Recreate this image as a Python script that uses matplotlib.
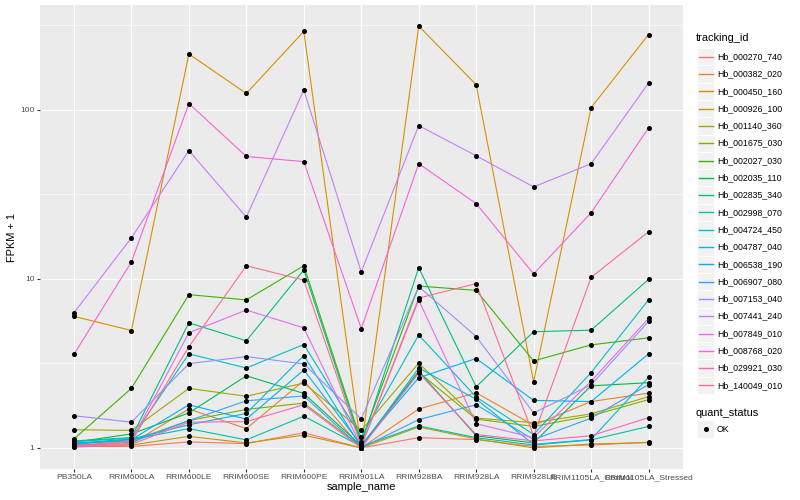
import matplotlib
matplotlib.use("Agg")
import matplotlib.pyplot as plt
from matplotlib.patches import Rectangle
import numpy as np

plt.rcParams['font.family'] = ['Liberation Sans', 'DejaVu Sans']

# 样本（x 轴类别）
samples = ["PB350LA", "RRIM600LA", "RRIM600LE", "RRIM600SE", "RRIM600PE",
           "RRIM901LA", "RRIM928BA", "RRIM928LA", "RRIM928LE",
           "RRIM1105LA_Control", "RRIM1105LA_Stressed"]

tracking_ids = ["Hb_000270_740", "Hb_000382_020", "Hb_000450_160", "Hb_000926_100",
                "Hb_001140_360", "Hb_001675_030", "Hb_002027_030", "Hb_002035_110",
                "Hb_002835_340", "Hb_002998_070", "Hb_004724_450", "Hb_004787_040",
                "Hb_006538_190", "Hb_006907_080", "Hb_007153_040", "Hb_007441_240",
                "Hb_007849_010", "Hb_008768_020", "Hb_029921_030", "Hb_140049_010"]

# FPKM + 1，每个基因一行
hb_000270_740 = [1.02, 1.02, 1.085, 1.06, 1.23, 1.00, 1.15, 1.12, 1.02, 1.04, 1.08]
hb_000382_020 = [1.04, 1.06, 1.70, 1.30, 2.50, 1.00, 1.70, 2.12, 1.36, 1.88, 2.11]
hb_000450_160 = [6.0, 4.95, 214, 125, 291, 1.0, 313, 141, 2.46, 103, 279]
hb_000926_100 = [1.03, 1.04, 1.17, 1.07, 1.19, 1.00, 1.33, 1.13, 1.00, 1.055, 1.075]
hb_001140_360 = [1.28, 1.27, 2.25, 2.02, 2.42, 1.27, 3.17, 1.50, 1.41, 1.59, 2.01]
hb_001675_030 = [1.06, 1.10, 1.45, 1.69, 1.84, 1.02, 2.80, 1.48, 1.34, 1.55, 1.93]
hb_002027_030 = [1.13, 2.25, 8.07, 7.51, 11.96, 1.09, 9.07, 8.55, 3.27, 4.07, 4.48]
hb_002035_110 = [1.08, 1.21, 1.61, 2.67, 2.10, 1.03, 2.85, 1.18, 1.07, 2.33, 2.43]
hb_002835_340 = [1.10, 1.15, 5.50, 4.30, 11.3, 1.05, 11.66, 2.30, 4.87, 4.97, 9.93]
hb_002998_070 = [1.07, 1.12, 1.30, 1.115, 1.54, 1.02, 1.35, 1.15, 1.04, 1.115, 1.34]
hb_004724_450 = [1.09, 1.14, 3.60, 2.97, 4.09, 1.16, 4.66, 2.00, 1.20, 2.79, 7.51]
hb_004787_040 = [1.05, 1.13, 1.37, 1.60, 3.52, 1.01, 2.97, 1.94, 1.05, 1.12, 2.62]
hb_006538_190 = [1.06, 1.12, 1.80, 1.48, 2.89, 1.04, 2.60, 3.38, 1.91, 1.88, 3.60]
hb_006907_080 = [1.04, 1.08, 1.45, 1.90, 2.03, 1.00, 1.47, 1.80, 1.12, 1.50, 2.37]
hb_007153_040 = [1.55, 1.42, 3.15, 3.47, 3.14, 1.485, 9.00, 4.56, 1.61, 2.36, 5.60]
hb_007441_240 = [6.3, 17.5, 57.4, 23.2, 131, 11.0, 80.7, 53.5, 35, 48, 144]
hb_007849_010 = [1.02, 1.10, 4.80, 6.54, 5.13, 1.02, 7.50, 1.39, 1.15, 2.48, 5.83]
hb_008768_020 = [3.58, 12.6, 109, 53, 49.4, 5.08, 48, 27.9, 10.7, 24.6, 78.2]
hb_029921_030 = [1.01, 1.05, 1.42, 1.43, 1.80, 1.00, 2.78, 1.20, 1.10, 1.18, 1.51]
hb_140049_010 = [1.03, 1.09, 3.97, 11.96, 9.83, 1.02, 7.70, 9.38, 1.18, 10.2, 19.0]

series = [hb_000270_740, hb_000382_020, hb_000450_160, hb_000926_100, hb_001140_360,
          hb_001675_030, hb_002027_030, hb_002035_110, hb_002835_340, hb_002998_070,
          hb_004724_450, hb_004787_040, hb_006538_190, hb_006907_080, hb_007153_040,
          hb_007441_240, hb_007849_010, hb_008768_020, hb_029921_030, hb_140049_010]

# ggplot2 hue_pal()(20)
colors = ["#F8766D", "#EA8331", "#D89000", "#C09B00", "#A3A500", "#7CAE00", "#39B600",
          "#00BB4E", "#00BF7D", "#00C1A3", "#00BFC4", "#00BAE0", "#00B0F6", "#35A2FF",
          "#9590FF", "#C77CFF", "#E76BF3", "#FA62DB", "#FF62BC", "#FF6C90"]

W, H = 800, 500
fig = plt.figure(figsize=(8, 5), dpi=100)
fig.patch.set_facecolor("white")

# 面板位置（像素）
PL, PR, PT, PB = 39.5, 683, 5, 469
ax = fig.add_axes([PL / W, 1 - PB / H, (PR - PL) / W, (PB - PT) / H])
ax.set_facecolor("#EBEBEB")
for s in ax.spines.values():
    s.set_visible(False)

x = np.arange(len(samples))
for vals, c in zip(series, colors):
    ax.plot(x, vals, color=c, lw=0.8, zorder=3)
for vals in series:
    ax.plot(x, vals, ls="none", marker="o", ms=2.6, color="black", zorder=4)

ax.set_yscale("log")
lo, hi = np.log10(min(min(v) for v in series)), np.log10(max(max(v) for v in series))
pad = (hi - lo) * 0.05
ax.set_ylim(10 ** (lo - pad), 10 ** (hi + pad))
ax.set_xlim(-0.6, len(samples) - 0.4)

# 网格
for yv in [1, 10, 100]:
    ax.axhline(yv, color="white", lw=0.8, zorder=1)
for yv in [10 ** 0.5, 10 ** 1.5, 10 ** 2.5]:
    ax.axhline(yv, color="white", lw=0.4, zorder=1)
for xv in x:
    ax.axvline(xv, color="white", lw=0.8, zorder=1)

ax.set_yticks([1, 10, 100])
ax.set_yticklabels(["1", "10", "100"])
ax.yaxis.set_minor_locator(matplotlib.ticker.NullLocator())
ax.set_xticks(x)
ax.set_xticklabels(samples)
ax.tick_params(axis="both", which="major", length=2.0, width=0.8, color="#333333",
               labelcolor="#4D4D4D", labelsize=6.1, pad=1.6)

fig.text(361 / W, 1 - 487 / H, "sample_name", ha="center", va="center",
         fontsize=7.9, color="black")
fig.text(12 / W, 1 - 237 / H, "FPKM + 1", ha="center", va="center",
         rotation=90, fontsize=7.9, color="black")

# 图例（像素坐标的覆盖层）
lax = fig.add_axes([0, 0, 1, 1])
lax.set_xlim(0, W)
lax.set_ylim(H, 0)
lax.axis("off")
lax.patch.set_alpha(0)

lax.text(696, 38, "tracking_id", ha="left", va="center", fontsize=7.9)
step = 17.3
for i, (name, c) in enumerate(zip(tracking_ids, colors)):
    yc = 56.7 + step * i
    lax.add_patch(Rectangle((697, yc - step / 2), 17, step, facecolor="#F2F2F2",
                            edgecolor="white", lw=0.6, zorder=1))
    lax.plot([698.5, 712.5], [yc, yc], color=c, lw=1.0, zorder=3)
    lax.text(717, yc, name, ha="left", va="center", fontsize=6.3)

lax.text(696, 413, "quant_status", ha="left", va="center", fontsize=7.9)
lax.add_patch(Rectangle((697, 429 - step / 2), 17, step, facecolor="#F2F2F2",
                        edgecolor="white", lw=0.6, zorder=1))
lax.plot([705.5], [429], ls="none", marker="o", ms=2.6, color="black", zorder=3)
lax.text(717, 429, "OK", ha="left", va="center", fontsize=6.3)

fig.savefig("out.png", dpi=100)
